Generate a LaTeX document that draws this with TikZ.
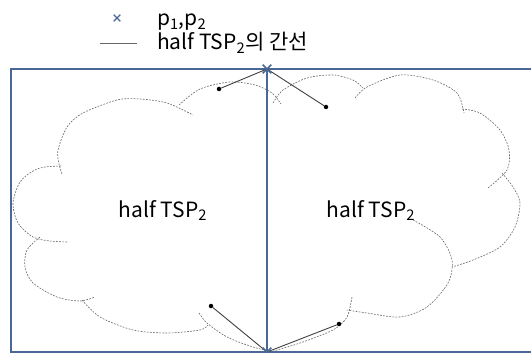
\documentclass[tikz,border=0pt]{standalone}
\usepackage{fontspec}
\setmainfont{Noto Sans CJK KR}
\usetikzlibrary{shapes.misc}
\definecolor{frameblue}{RGB}{74,104,150}
\tikzset{
 cloudline/.style={draw=black!60, line width=0.6pt, dash pattern=on 1.8pt off 1.3pt},
 frame/.style={draw=frameblue, line width=2pt},
 pmark/.style={cross out, draw=frameblue, line width=1.6pt, minimum size=7pt, inner sep=0pt},
 vtx/.style={circle, fill=black, inner sep=0pt, minimum size=4.5pt},
 edge/.style={draw=black!75, line width=0.9pt},
 lbl/.style={font=\fontsize{21}{25}\selectfont, inner sep=0pt},
}
\begin{document}
\begin{tikzpicture}[x=1pt,y=-1pt]
\useasboundingbox (0,0) rectangle (531,353);
\clip (0,0) rectangle (531,353);
% left cloud
\draw[cloudline] plot[smooth] coordinates {(62,174) (59,164) (58,150) (67,127) (83,113) (117,100) (140,99) (167,103) (193,115)};
\draw[cloudline] plot[smooth] coordinates {(179,105) (200,89) (230,82) (255,85) (272,93) (281,104)};
\draw[cloudline] plot[smooth] coordinates {(61,166) (45,167) (33,171) (20,182) (13,203) (18,223) (33,237) (50,241) (68,242)};
\draw[cloudline] plot[smooth] coordinates {(40,237) (27,250) (25,267) (33,283) (57,297) (80,301) (95,297)};
\draw[cloudline] plot[smooth] coordinates {(82,300) (100,317) (133,330) (167,333) (200,330) (208,325)};
\draw[cloudline] plot[smooth] coordinates {(199,313) (207,323) (227,337) (253,347) (273,352)};
% right cloud
\draw[cloudline] plot[smooth] coordinates {(273,103) (283,90) (307,78) (333,75) (353,80) (363,88)};
\draw[cloudline] plot[smooth] coordinates {(355,98) (367,87) (400,75) (433,80) (457,93) (464,113)};
\draw[cloudline] plot[smooth] coordinates {(462,109) (480,113) (500,130) (509,150) (507,170) (488,188)};
\draw[cloudline] plot[smooth] coordinates {(502,173) (513,187) (520,203) (515,227) (500,247) (473,260) (452,267)};
\draw[cloudline] plot[smooth] coordinates {(413,220) (440,237) (452,260) (448,283) (427,307) (400,317) (367,313) (347,310)};
\draw[cloudline] plot[smooth] coordinates {(352,297) (347,317) (333,330) (300,343) (270,352)};
% frame
\draw[frame] (11,69) rectangle (545,352);
\coordinate (p1) at (267,69);
\coordinate (p2) at (267,352);
\draw[frame] (p1) -- (p2);
% vertices and edges
\node[vtx] (a) at (219,89) {};
\node[vtx] (b) at (326,107) {};
\node[vtx] (c) at (211,306) {};
\node[vtx] (d) at (339,324) {};
\draw[edge] (p1) -- (a);
\draw[edge] (p1) -- (b);
\draw[edge] (p2) -- (c);
\draw[edge] (p2) -- (d);
\node[pmark] (m1) at (p1) {};
\node[pmark] (m2) at (p2) {};
% texts
\node[lbl, anchor=base] (tl) at (163,217) {half TSP\textsubscript{2}};
\node[lbl, anchor=base] (tr) at (371,217) {half TSP\textsubscript{2}};
% legend
\node[pmark, minimum size=5.5pt, line width=1.2pt] (legmark) at (117,18) {};
\coordinate (legA) at (100,43);
\coordinate (legB) at (137,43);
\draw[draw=black!60, line width=0.6pt] (legA) -- (legB);
\node[lbl, anchor=base west] (legp) at (157,26) {p\textsubscript{1},p\textsubscript{2}};
\node[lbl, anchor=base west] (legh) at (157,50) {half TSP\textsubscript{2}의 간선};
\end{tikzpicture}
\end{document}
